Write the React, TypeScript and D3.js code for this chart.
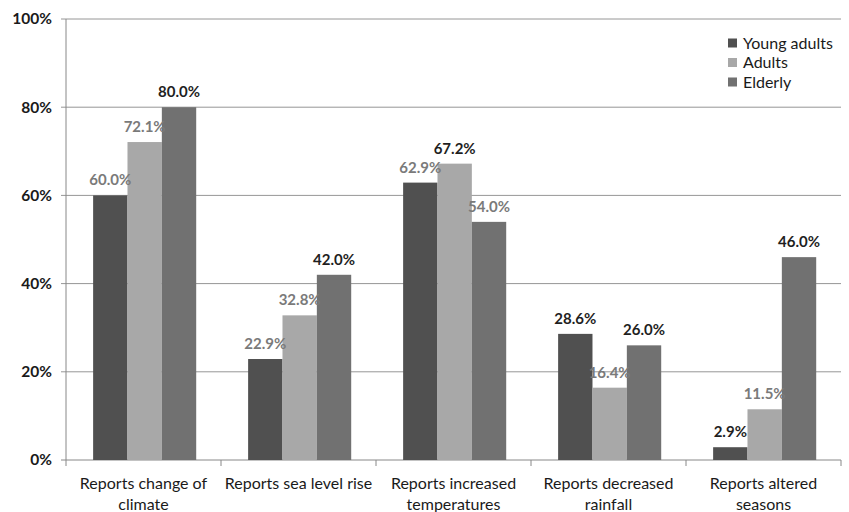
import React from "react";
import * as d3 from "d3";

const categories = [
  "Reports change of climate",
  "Reports sea level rise",
  "Reports increased temperatures",
  "Reports decreased rainfall",
  "Reports altered seasons",
];
const categoryLines = [
  ["Reports change of", "climate"],
  ["Reports sea level rise"],
  ["Reports increased", "temperatures"],
  ["Reports decreased", "rainfall"],
  ["Reports altered", "seasons"],
];
const seriesNames = ["Young adults", "Adults", "Elderly"];
const youngAdults = [60.0, 22.9, 62.9, 28.6, 2.9];
const adults = [72.1, 32.8, 67.2, 16.4, 11.5];
const elderly = [80.0, 42.0, 54.0, 26.0, 46.0];
const yTicks = [0, 20, 40, 60, 80, 100];

// label tone per series/category: true = dark label, false = grey label
const darkLabels = [
  [false, false, false, true, true],
  [false, false, true, false, false],
  [true, true, false, true, true],
];

const W = 849;
const H = 512;
const margin = { left: 66, right: 8, top: 19, bottom: 52 };
const barColors = ["#505050", "#a8a8a8", "#717171"];
const FONT = "Lato, 'Open Sans', sans-serif";

export default function App() {
  const series = [youngAdults, adults, elderly];
  const x0 = d3
    .scaleBand<string>()
    .domain(categories)
    .range([margin.left, W - margin.right])
    .paddingInner(0)
    .paddingOuter(0);
  const bw = x0.bandwidth();
  const x1 = d3
    .scaleBand<string>()
    .domain(seriesNames)
    .range([bw * 0.175, bw * 0.84])
    .padding(0);
  const y = d3
    .scaleLinear()
    .domain([0, 100])
    .range([H - margin.bottom, margin.top]);

  const x0Right = W - margin.right;

  return (
    <svg
      width={W}
      height={H}
      style={{ position: "absolute", left: 0, top: 0, background: "#fff" }}
      fontFamily={FONT}
    >
      {/* gridlines and y axis ticks */}
      {yTicks.map((t) => (
        <g key={t}>
          <line
            x1={margin.left - 5}
            x2={x0Right}
            y1={y(t)}
            y2={y(t)}
            stroke={t === 0 ? "#888" : "#969696"}
            strokeWidth={1}
          />
          <text
            x={margin.left - 14}
            y={y(t)}
            dy="0.35em"
            textAnchor="end"
            fontSize={15.5}
            fontWeight={700}
            fill="#1a1a1a"
          >
            {t}%
          </text>
        </g>
      ))}
      <line
        x1={margin.left}
        x2={margin.left}
        y1={y(100)}
        y2={y(0)}
        stroke="#888"
      />
      {/* category boundary ticks */}
      {categories.map((c) => (
        <line
          key={c}
          x1={x0(c)!}
          x2={x0(c)!}
          y1={y(0)}
          y2={y(0) + 6}
          stroke="#888"
        />
      ))}
      <line x1={x0Right} x2={x0Right} y1={y(0)} y2={y(0) + 6} stroke="#888" />

      {/* bars */}
      {categories.map((c, ci) => (
        <g key={c} transform={`translate(${x0(c)},0)`}>
          {seriesNames.map((s, si) => {
            const v = series[si][ci];
            return (
              <rect
                key={s}
                x={x1(s)!}
                y={y(v)}
                width={x1.bandwidth()}
                height={y(0) - y(v)}
                fill={barColors[si]}
              />
            );
          })}
        </g>
      ))}

      {/* value labels */}
      {categories.map((c, ci) => (
        <g key={c} transform={`translate(${x0(c)},0)`}>
          {seriesNames.map((s, si) => {
            const v = series[si][ci];
            return (
              <text
                key={s}
                x={x1(s)! + x1.bandwidth() / 2}
                y={y(v) - 10}
                textAnchor="middle"
                fontSize={15}
                fontWeight={700}
                fill={darkLabels[si][ci] ? "#1f1f1f" : "#7a7a7a"}
              >
                {v.toFixed(1)}%
              </text>
            );
          })}
        </g>
      ))}

      {/* category labels */}
      {categories.map((c, ci) => (
        <text
          key={c}
          x={x0(c)! + bw / 2}
          y={y(0) + 29}
          textAnchor="middle"
          fontSize={16}
          fill="#1a1a1a"
        >
          {categoryLines[ci].map((ln, li) => (
            <tspan key={li} x={x0(c)! + bw / 2} dy={li === 0 ? 0 : 21}>
              {ln}
            </tspan>
          ))}
        </text>
      ))}

      {/* legend */}
      <g transform="translate(728,43)">
        {seriesNames.map((s, i) => (
          <g key={s} transform={`translate(0,${i * 19.5})`}>
            <rect x={0} y={-4.5} width={9} height={9} fill={barColors[i]} />
            <text x={15} y={0} dy="0.35em" fontSize={16} fill="#1a1a1a">
              {s}
            </text>
          </g>
        ))}
      </g>
    </svg>
  );
}
